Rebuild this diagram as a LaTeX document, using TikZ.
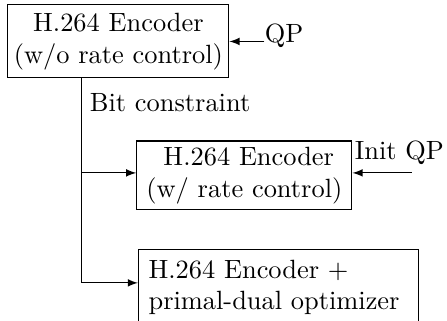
\documentclass[tikz,border=0pt]{standalone}
\usetikzlibrary{arrows}

\begin{document}
\begin{tikzpicture}[>=latex, font=\fontsize{10.4pt}{12.4pt}\selectfont, blk/.style={draw, align=center, inner sep=2pt}]
    \useasboundingbox (0,0) rectangle (6.19,-4.44);

    \node[blk, minimum width=3.06cm, minimum height=1.01cm] (enc) at (1.64,-0.574) {H.264 Encoder\\(w/o rate control)};
    \node[blk, minimum width=2.98cm, minimum height=0.955cm] (rc) at (3.384,-2.43) {\ H.264 Encoder\\(w/ rate control)};
    \node[blk, align=left, text width=3.6cm, inner xsep=4pt, minimum height=1.05cm, anchor=north west] (pd) at (1.91,-3.446) {H.264 Encoder +\\primal-dual optimizer};

    \node[anchor=west, inner sep=0pt] (qp) at (3.66,-0.5) {QP};
    \node[inner sep=1pt] (iqp) at (5.53,-2.12) {Init QP};
    \node[anchor=west] (bc) at (1.12,-1.42) {Bit constraint};

    \coordinate (iqpin) at (5.70,-2.394);
    \coordinate (split) at (1.135,-2.394);
    \coordinate (corner) at (1.135,-3.917);

    \draw[->] (qp.west |- enc.east) -- (enc.east);
    \draw[->] (iqpin) -- (rc.east |- iqpin);
    \draw (enc.south -| split) -- (corner);
    \draw[->] (split) -- (rc.west |- split);
    \draw[->] (corner) -- (pd.west |- corner);
\end{tikzpicture}
\end{document}
